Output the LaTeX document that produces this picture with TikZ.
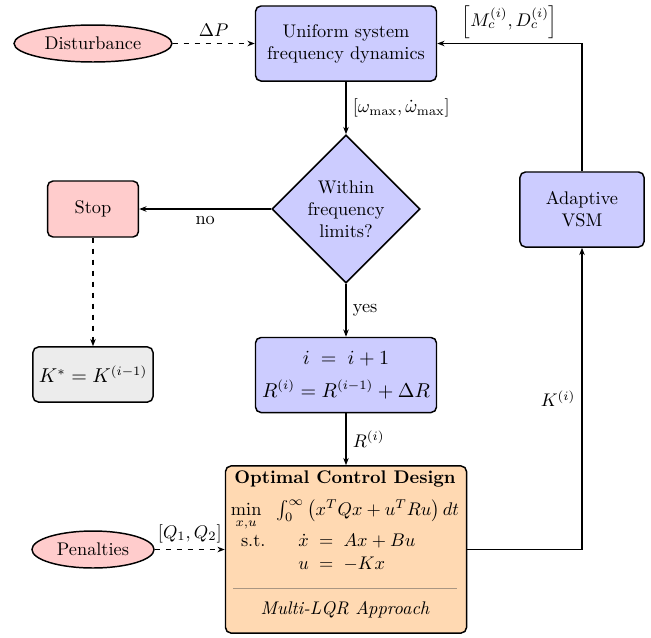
\documentclass[tikz,border=0pt]{standalone}
\usepackage{amsmath}
\usetikzlibrary{shapes.geometric,arrows.meta}
\definecolor{rulec}{RGB}{170,150,130}
\begin{document}
\begin{tikzpicture}[x=0.5464pt,y=-0.5464pt,
  box/.style={draw=black, thick, rounded corners=3pt, fill=blue!20, align=center,
    minimum width=98.9pt, minimum height=41pt, inner sep=2pt},
  ell/.style={draw=black, thick, ellipse, fill=red!20, inner sep=0pt,
    minimum width=86.3pt, minimum height=20.2pt},
  dia/.style={draw=black, thick, diamond, fill=blue!20, align=center, inner sep=0pt,
    minimum width=80.9pt, minimum height=80.9pt},
  optbox/.style={draw=black, thick, rounded corners=3pt, fill=orange!30,
    minimum width=131.7pt, minimum height=91.3pt, inner sep=0pt},
  mathbig/.style={font=\fontsize{10.7}{13}\selectfont},
  arr/.style={thick, -{Stealth[length=4pt,width=3pt]}},
  darr/.style={arr, dashed},
]
\useasboundingbox (0,0) rectangle (651,637);
% nodes
\node[box] (uni) at (346,43.5) {Uniform system\\frequency dynamics};
\node[ell] (dist) at (93,43.5) {Disturbance};
\node[dia] (dia) at (346,209) {Within\\frequency\\limits?};
\node[box, fill=red!20, minimum width=49.7pt, minimum height=30.6pt] (stop) at (93,209) {Stop};
\node[box, mathbig, fill=gray!15, minimum width=65.6pt, minimum height=30.1pt] (kstar) at (93,374.5) {$K^{*} = K^{(i-1)}$};
\node[box, mathbig] (upd) at (346,375) {$i \;=\; i+1$\\[5pt]$R^{(i)} = R^{(i-1)} + \Delta R$};
\node[box, minimum width=67.8pt] (vsm) at (582,209.5) {Adaptive\\VSM};
\node[optbox] (opt) at (346,549.5) {};
\node[ell, minimum width=66.7pt] (pen) at (93,549.5) {Penalties};
% content of optimal control box
\node[font=\bfseries] (optt) at (345,479) {Optimal Control Design};
\node (optm) at (345,538) {$\begin{array}{@{}l@{\hspace{6pt}}l@{}}
  \min\limits_{x,u} & \int_0^\infty \left(x^TQx+u^TRu\right)dt\\
  \hspace{5.5pt}\text{s.t.} & \hspace{12pt}\dot x \;=\; Ax+Bu\\[1pt]
   & \hspace{12pt}u \;=\; -Kx
  \end{array}$};
\draw[rulec, line width=0.5pt] (233,588) -- (457,588);
\node[font=\itshape] (optf) at (345,610) {Multi-LQR Approach};
% connectors
\draw[darr] (dist) -- node[above]{$\Delta P$} (uni);
\draw[arr] (uni) -- node[right]{$[\omega_{\max},\dot\omega_{\max}]$} (dia);
\draw[arr] (dia) -- node[below]{no} (stop);
\draw[darr] (stop) -- (kstar);
\draw[arr] (dia) -- node[right]{yes} (upd);
\draw[arr] (upd) -- node[right]{$R^{(i)}$} (opt);
\draw[darr] (pen) -- node[above]{$[Q_1,Q_2]$} (opt);
\draw[arr] (opt.east) -| node[pos=0.75,left]{$K^{(i)}$} (vsm.south);
\draw[arr] (vsm.north) |- node[pos=0.75,above,inner sep=0pt,yshift=2.3pt]{$\left[M_c^{(i)},D_c^{(i)}\right]$} (uni.east);
\end{tikzpicture}
\end{document}
